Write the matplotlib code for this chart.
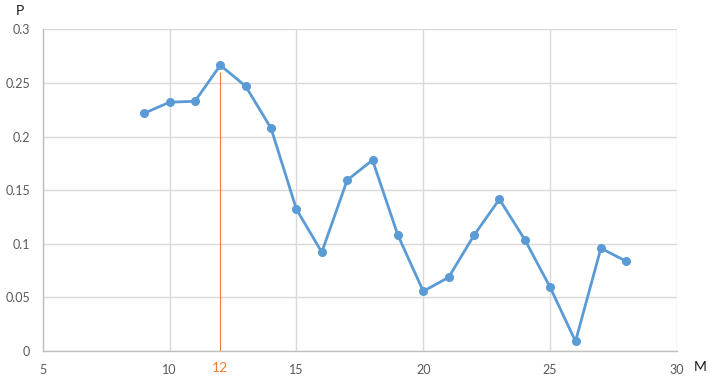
import matplotlib
matplotlib.use("Agg")
import matplotlib.pyplot as plt
from matplotlib.transforms import blended_transform_factory, offset_copy

M = [9, 10, 11, 12, 13, 14, 15, 16, 17, 18, 19, 20, 21, 22, 23, 24, 25, 26, 27, 28]
P = [0.2217, 0.232, 0.2329, 0.2665, 0.2469, 0.2077, 0.1322, 0.0921, 0.1593, 0.178,
     0.1079, 0.0557, 0.0687, 0.1079, 0.1415, 0.1039, 0.0594, 0.009, 0.0958, 0.0837]
x_ticks = [5, 10, 15, 20, 25, 30]
y_ticks = [0, 0.05, 0.1, 0.15, 0.2, 0.25, 0.3]
y_tick_labels = ["0", "0.05", "0.1", "0.15", "0.2", "0.25", "0.3"]
marker_x = 12
marker_top = 0.2605
marker_label = "12"

plt.rcParams['font.family'] = ['Lato', 'DejaVu Sans']

fig = plt.figure(figsize=(7.21, 3.91), dpi=100)
ax = fig.add_axes([42.7 / 721, 1 - 351 / 391, (677 - 42.7) / 721, (351 - 29.3) / 391])

ax.set_xlim(5, 30)
ax.set_ylim(0, 0.3)
ax.set_xticks(x_ticks)
ax.set_yticks(y_ticks)
ax.set_yticklabels(y_tick_labels)
ax.grid(True, color="#d9d9d9", linewidth=1)
ax.set_axisbelow(True)
for s in ["top", "right"]:
    ax.spines[s].set_visible(False)
for s in ["left", "bottom"]:
    ax.spines[s].set_color("#bfbfbf")
    ax.spines[s].set_linewidth(1)
ax.tick_params(length=0, colors="#595959", labelsize=9)
ax.tick_params(axis="x", pad=9)
ax.tick_params(axis="y", pad=9)

ax.vlines(marker_x, 0, marker_top, color="#ED7D31", linewidth=0.8, zorder=2)
ax.plot(M, P, color="#5B9BD5", linewidth=2, marker="o", markersize=5.5, zorder=3)

trans = offset_copy(blended_transform_factory(ax.transData, ax.transAxes),
                    fig=fig, x=0, y=-17, units="dots")
ax.text(marker_x, 0, marker_label, color="#ED7D31", fontsize=10,
        ha="center", va="center", transform=trans, clip_on=False)

fig.text(20 / 721, 1 - 11 / 391, "P", fontsize=10, color="#1a1a1a", ha="center", va="center")
fig.text(700 / 721, 1 - 367 / 391, "M", fontsize=10, color="#1a1a1a", ha="center", va="center")

fig.savefig("out.png", dpi=100, facecolor="white")
